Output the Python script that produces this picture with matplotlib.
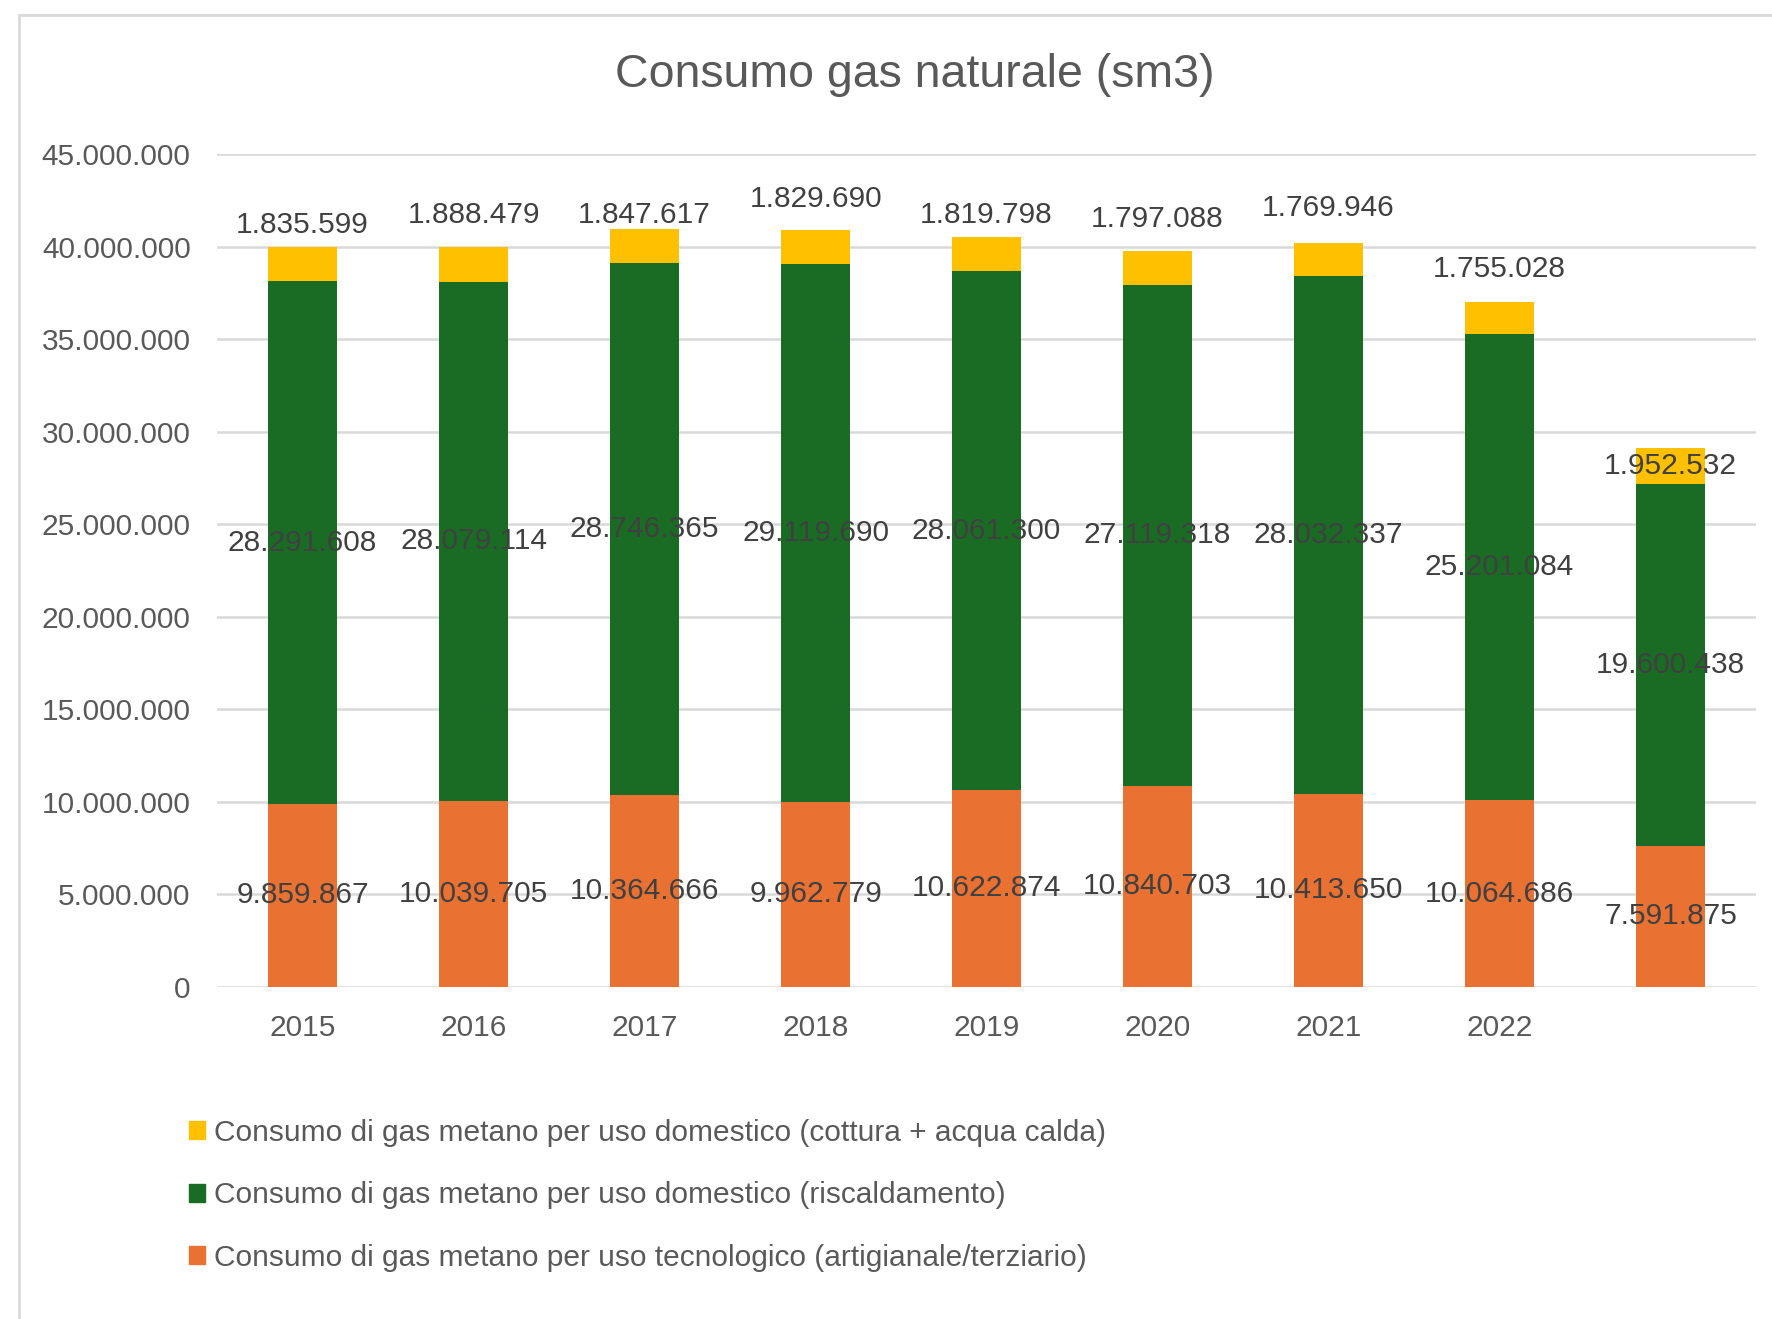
import numpy as np
import matplotlib.pyplot as plt
from matplotlib.patches import Rectangle, Patch

years = ["2015", "2016", "2017", "2018", "2019", "2020", "2021", "2022", ""]
tecnologico = [9859867, 10039705, 10364666, 9962779, 10622874, 10840703, 10413650, 10064686, 7591875]
riscaldamento = [28291608, 28079114, 28746365, 29119690, 28061300, 27119318, 28032337, 25201084, 19600438]
cottura = [1835599, 1888479, 1847617, 1829690, 1819798, 1797088, 1769946, 1755028, 1952532]

labels = ["Consumo di gas metano per uso domestico (cottura + acqua calda)",
          "Consumo di gas metano per uso domestico (riscaldamento)",
          "Consumo di gas metano per uso tecnologico (artigianale/terziario)"]

# where the yellow labels were dragged to in the original (y, data units)
top_label_y = [41.2e6, 41.7e6, 41.7e6, 42.6e6, 41.7e6, 41.5e6, 42.1e6, 38.8e6, None]

c_yel = "#FFC000"
c_grn = "#1A6B24"
c_org = "#E97132"

plt.rcParams['font.family'] = ['Liberation Sans', 'DejaVu Sans']

def fmt(v):
    return "{:,}".format(int(v)).replace(",", ".")

fig = plt.figure(figsize=(17.72, 13.19), dpi=100)
ax = fig.add_axes([0.1225, 0.252, 0.8685, 0.631])

# chart frame
fig.patches.append(Rectangle((19/1772, -0.1), 1.2, 1 - 15/1319 + 0.1, transform=fig.transFigure,
                             fill=False, edgecolor="#D9D9D9", linewidth=2))

x = np.arange(len(years))
w = 0.4
tec = np.array(tecnologico)
ris = np.array(riscaldamento)
cot = np.array(cottura)
ax.bar(x, tec, w, color=c_org, zorder=3)
ax.bar(x, ris, w, bottom=tec, color=c_grn, zorder=3)
ax.bar(x, cot, w, bottom=tec + ris, color=c_yel, zorder=3)

lab_kw = dict(ha="center", va="center", fontsize=21.5, color="#404040", zorder=4)
for i in range(len(x)):
    ax.text(x[i], tec[i] / 2, fmt(tec[i]), **lab_kw)
    ax.text(x[i], tec[i] + ris[i] / 2, fmt(ris[i]), **lab_kw)
    ty = top_label_y[i] if top_label_y[i] is not None else tec[i] + ris[i] + cot[i] / 2
    ax.text(x[i], ty, fmt(cot[i]), **lab_kw)

ax.set_xlim(-0.5, len(x) - 0.5)
ax.set_ylim(0, 45e6)
ax.set_yticks(np.arange(0, 45e6 + 1, 5e6))
ax.set_yticklabels([fmt(v) for v in np.arange(0, 45e6 + 1, 5e6)])
ax.set_xticks(x)
ax.set_xticklabels(years)
ax.tick_params(axis="both", length=0, labelsize=21.5, labelcolor="#595959")
ax.tick_params(axis="y", pad=19)
ax.tick_params(axis="x", pad=20)
ax.grid(axis="y", color="#D9D9D9", linewidth=1.8, zorder=0)
for s in ax.spines.values():
    s.set_visible(False)

fig.text(915/1772, 1 - 75/1319, "Consumo gas naturale (sm3)", ha="center", va="center",
         fontsize=33.5, color="#595959")

handles = [Patch(color=c_yel), Patch(color=c_grn), Patch(color=c_org)]
fig.legend(handles, labels, loc="upper left", bbox_to_anchor=(0.098, 0.163), frameon=False,
           fontsize=21.5, labelcolor="#595959", handlelength=0.55, handleheight=0.55,
           handletextpad=0.3, labelspacing=1.15, borderpad=0)

fig.savefig("out.png", dpi=100)
